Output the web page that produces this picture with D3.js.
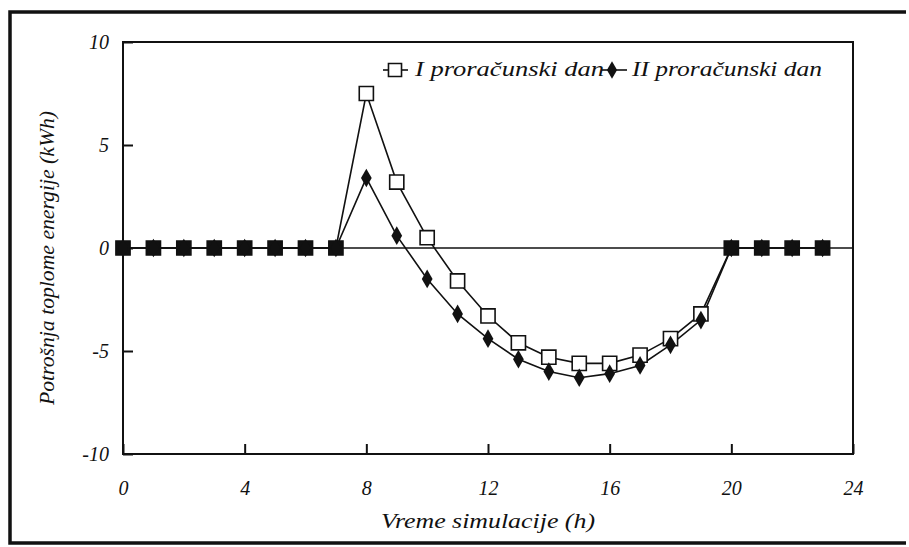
<!DOCTYPE html>
<html>
<head>
<meta charset="utf-8">
<script src="https://cdn.jsdelivr.net/npm/d3@7"></script>
<style>
  body { margin: 0; background: #fff; }
  svg text { font-family: "Liberation Serif"; font-style: italic; fill: #111; }
</style>
</head>
<body>
<svg width="909" height="547"></svg>
<script>
var hours = d3.range(0, 24);
var dayOne = [0, 0, 0, 0, 0, 0, 0, 0, 7.5, 3.2, 0.5, -1.6, -3.3, -4.6, -5.3, -5.6, -5.6, -5.2, -4.4, -3.2, 0, 0, 0, 0];
var dayTwo = [0, 0, 0, 0, 0, 0, 0, 0, 3.4, 0.6, -1.5, -3.2, -4.4, -5.4, -6.0, -6.3, -6.1, -5.7, -4.7, -3.5, 0, 0, 0, 0];
var xTicks = [0, 4, 8, 12, 16, 20, 24];
var yTicks = [10, 5, 0, -5, -10];

var svg = d3.select("svg"),
    margin = {top: 42, right: 56, bottom: 93, left: 123},
    width = +svg.attr("width") - margin.left - margin.right,
    height = +svg.attr("height") - margin.top - margin.bottom;

// scanned page frame
svg.append("path")
    .attr("d", "M906,12 H10 V543 H906")
    .attr("fill", "none")
    .attr("stroke", "#111")
    .attr("stroke-width", 3.5);

var x = d3.scaleLinear().domain([0, 24]).range([0, width]),
    y = d3.scaleLinear().domain([-10, 10]).range([height, 0]);

var g = svg.append("g")
    .attr("transform", "translate(" + margin.left + "," + margin.top + ")");

g.append("rect")
    .attr("width", width)
    .attr("height", height)
    .attr("fill", "none")
    .attr("stroke", "#111")
    .attr("stroke-width", 2);

g.append("line")
    .attr("x1", 0).attr("x2", width)
    .attr("y1", y(0)).attr("y2", y(0))
    .attr("stroke", "#111")
    .attr("stroke-width", 1.5);

var xAxis = g.append("g")
    .attr("transform", "translate(0," + height + ")")
    .call(d3.axisBottom(x).tickValues(xTicks).tickSize(-10).tickPadding(27).tickFormat(String));
xAxis.select(".domain").remove();
xAxis.selectAll("line").attr("stroke", "#111").attr("stroke-width", 2);
xAxis.selectAll("text").style("font-size", "20px").attr("fill", "#111");

var yAxis = g.append("g")
    .call(d3.axisLeft(y).tickValues(yTicks).tickSize(-10).tickPadding(14).tickFormat(String));
yAxis.select(".domain").remove();
yAxis.selectAll("line").attr("stroke", "#111").attr("stroke-width", 2);
yAxis.selectAll("text").style("font-size", "20px").attr("fill", "#111");

svg.append("text")
    .attr("x", margin.left + width / 2)
    .attr("y", 528)
    .attr("text-anchor", "middle")
    .attr("textLength", 214)
    .attr("lengthAdjust", "spacingAndGlyphs")
    .style("font-size", "21px")
    .text("Vreme simulacije (h)");

svg.append("text")
    .attr("transform", "translate(54,258) rotate(-90)")
    .attr("text-anchor", "middle")
    .attr("textLength", 294)
    .attr("lengthAdjust", "spacingAndGlyphs")
    .style("font-size", "21px")
    .text("Potrošnja toplome energije (kWh)");

var line = d3.line()
    .x(function(d, i) { return x(hours[i]); })
    .y(function(d) { return y(d); });

g.append("path").datum(dayOne)
    .attr("d", line).attr("fill", "none").attr("stroke", "#111").attr("stroke-width", 1.6);
g.append("path").datum(dayTwo)
    .attr("d", line).attr("fill", "none").attr("stroke", "#111").attr("stroke-width", 1.6);

var square = d3.symbol().type(d3.symbolSquare).size(200),
    diamond = d3.symbol().type(d3.symbolDiamond).size(100);

g.selectAll(".sq").data(dayOne).enter().append("path")
    .attr("class", "sq")
    .attr("transform", function(d, i) { return "translate(" + x(hours[i]) + "," + y(d) + ")"; })
    .attr("d", square)
    .attr("fill", function(d, i) { return d === dayTwo[i] ? "#111" : "#fff"; })
    .attr("stroke", "#111")
    .attr("stroke-width", 1.6);

g.selectAll(".dm").data(dayTwo).enter().append("path")
    .attr("class", "dm")
    .attr("transform", function(d, i) { return "translate(" + x(hours[i]) + "," + y(d) + ")"; })
    .attr("d", diamond)
    .attr("fill", "#111");

// legend
var legend = svg.append("g").attr("transform", "translate(0,70)");
legend.append("line").attr("x1", 383).attr("x2", 408).attr("stroke", "#111").attr("stroke-width", 1.6);
legend.append("path").attr("transform", "translate(395,0)").attr("d", d3.symbol().type(d3.symbolSquare).size(170))
    .attr("fill", "#fff").attr("stroke", "#111").attr("stroke-width", 1.6);
legend.append("text").attr("x", 415).attr("y", 6).attr("textLength", 189).attr("lengthAdjust", "spacingAndGlyphs")
    .style("font-size", "21px").text("I proračunski dan");
legend.append("line").attr("x1", 602).attr("x2", 627).attr("stroke", "#111").attr("stroke-width", 1.6);
legend.append("path").attr("transform", "translate(612,0)").attr("d", d3.symbol().type(d3.symbolDiamond).size(90))
    .attr("fill", "#111");
legend.append("text").attr("x", 632).attr("y", 6).attr("textLength", 190).attr("lengthAdjust", "spacingAndGlyphs")
    .style("font-size", "21px").text("II proračunski dan");
</script>
</body>
</html>
